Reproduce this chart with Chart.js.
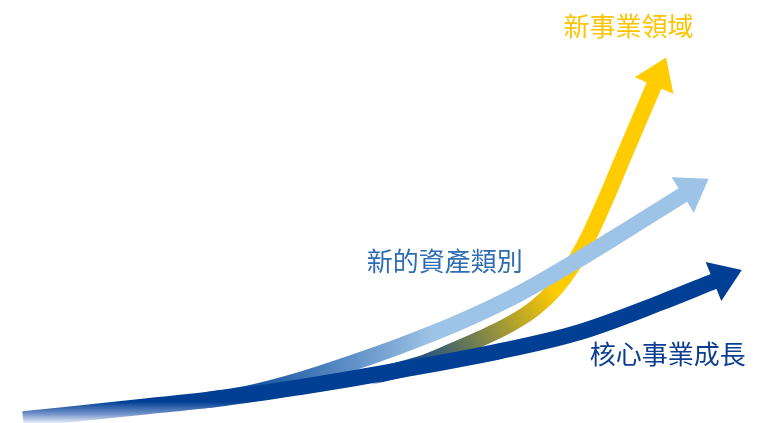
<!DOCTYPE html>
<html lang="zh-Hant">
<head>
<meta charset="utf-8">
<title>成長曲線</title>
<script src="https://cdn.jsdelivr.net/npm/chart.js@4.4.1/dist/chart.umd.min.js"></script>
<style>
  html, body { margin: 0; padding: 0; background: #fff; }
  #wrap { position: relative; width: 772px; height: 423px; }
</style>
</head>
<body>
<div id="wrap"><canvas id="growthChart"></canvas></div>
<script>
// x = time, y = growth, both on a 0-100 scale
const coreX = [3, 19.4, 29.1, 38.9, 45.3, 51.8, 64.8, 75.1, 85.5, 92.6];
const coreY = [0.9, 4.0, 5.9, 8.5, 10.4, 12.5, 17.0, 21.5, 28.4, 33.6];

const assetX = [25.9, 32.4, 38.9, 45.3, 51.8, 59.6, 67.4, 75.1, 81.6, 88.6];
const assetY = [5.2, 7.1, 10.2, 14.0, 18.2, 23.9, 30.7, 38.8, 46.1, 54.1];

const newBizX = [47.9, 54.4, 58.3, 62.2, 66.1, 69.3, 71.9, 74.1, 76.2, 78.4, 80.6, 82.8, 84.8];
const newBizY = [10.9, 13.9, 16.8, 19.9, 23.4, 27.2, 31.7, 37.1, 43.9, 52.7, 62.2, 71.6, 80.1];

const seriesNames = ["核心事業成長", "新的資產類別", "新事業領域"];

const NAVY = "#003f94";
const NAVY_CLEAR = "rgba(0, 63, 148, 0)";
const SKY = "#9dc3e6";
const GOLD = "#ffcc00";

// label anchors (left edge, vertical middle) in data units
const labelSpots = [
  { x: 76.4, y: 16.3, color: "#0b3e90" },
  { x: 47.5, y: 38.3, color: "#2f6db3" },
  { x: 73.0, y: 93.8, color: "#ffc400" },
];

function toPoints(xs, ys) {
  return xs.map((x, i) => ({ x: x, y: ys[i] }));
}

// gradient between two points given in data units
function dataGradient(chart, x0, y0, x1, y1, stops) {
  const fallback = stops[stops.length - 1][1];
  const sx = chart.scales.x;
  const sy = chart.scales.y;
  if (!chart.chartArea || !sx || !sy) return fallback;
  const p = [
    sx.getPixelForValue(x0), sy.getPixelForValue(y0),
    sx.getPixelForValue(x1), sy.getPixelForValue(y1),
  ];
  if (!p.every(Number.isFinite)) return fallback;
  const g = chart.ctx.createLinearGradient(p[0], p[1], p[2], p[3]);
  stops.forEach(([pos, color]) => g.addColorStop(pos, color));
  return g;
}

const arrowHeads = {
  id: "arrowHeads",
  afterDatasetsDraw(chart) {
    const ctx = chart.ctx;
    chart.data.datasets.forEach((ds, i) => {
      const pts = chart.getDatasetMeta(i).data;
      const end = pts[pts.length - 1];
      const prev = pts[pts.length - 2];
      let dx = end.x - prev.x;
      let dy = end.y - prev.y;
      if (Number.isFinite(end.cp1x) && (end.x !== end.cp1x || end.y !== end.cp1y)) {
        dx = end.x - end.cp1x;
        dy = end.y - end.cp1y;
      }
      const len = Math.hypot(dx, dy);
      const ux = dx / len;
      const uy = dy / len;
      const L = 29;
      const W = 21;
      const bx = end.x - ux * 1.5;
      const by = end.y - uy * 1.5;
      ctx.save();
      ctx.fillStyle = ds.headColor;
      ctx.beginPath();
      ctx.moveTo(end.x + ux * L, end.y + uy * L);
      ctx.lineTo(bx - uy * W, by + ux * W);
      ctx.lineTo(bx + uy * W, by - ux * W);
      ctx.closePath();
      ctx.fill();
      ctx.restore();
    });
  },
};

const seriesLabels = {
  id: "seriesLabels",
  afterDraw(chart) {
    const ctx = chart.ctx;
    ctx.save();
    ctx.font = '26px "Noto Sans CJK TC", "Noto Sans CJK SC", sans-serif';
    ctx.textAlign = "left";
    ctx.textBaseline = "middle";
    labelSpots.forEach((spot, i) => {
      ctx.fillStyle = spot.color;
      ctx.fillText(
        seriesNames[i],
        chart.scales.x.getPixelForValue(spot.x),
        chart.scales.y.getPixelForValue(spot.y)
      );
    });
    ctx.restore();
  },
};

const lineStyle = {
  borderWidth: 16,
  borderCapStyle: "butt",
  borderJoinStyle: "round",
  cubicInterpolationMode: "monotone",
  pointRadius: 0,
  pointHoverRadius: 0,
  fill: false,
};

new Chart(document.getElementById("growthChart"), {
  type: "line",
  data: {
    datasets: [
      {
        ...lineStyle,
        label: seriesNames[0],
        data: toPoints(coreX, coreY),
        order: 0,
        headColor: NAVY,
        // fades in from the bottom-left corner
        borderColor: (c) => dataGradient(c.chart, 3, 0, 3, 5, [
          [0, "#e6ecf7"],
          [0.45, "#6f8fc8"],
          [1, NAVY],
        ]),
      },
      {
        ...lineStyle,
        label: seriesNames[1],
        data: toPoints(assetX, assetY),
        order: 1,
        headColor: SKY,
        // tail is hidden under the core line, so it starts clear
        borderColor: (c) => dataGradient(c.chart, 25.9, 0, 56, 0, [
          [0, NAVY_CLEAR],
          [0.05, NAVY],
          [0.1, NAVY],
          [1, SKY],
        ]),
      },
      {
        ...lineStyle,
        label: seriesNames[2],
        data: toPoints(newBizX, newBizY),
        order: 2,
        headColor: GOLD,
        borderColor: (c) => dataGradient(c.chart, 47.9, 9.5, 72, 31.4, [
          [0, NAVY_CLEAR],
          [0.06, NAVY],
          [0.165, NAVY],
          [1, GOLD],
        ]),
      },
    ],
  },
  options: {
    responsive: true,
    maintainAspectRatio: false,
    animation: false,
    layout: { padding: 0 },
    plugins: {
      legend: { display: false },
      tooltip: { enabled: false },
    },
    scales: {
      x: { type: "linear", min: 0, max: 100, display: false },
      y: { type: "linear", min: 0, max: 100, display: false },
    },
  },
  plugins: [arrowHeads, seriesLabels],
});
</script>
</body>
</html>
